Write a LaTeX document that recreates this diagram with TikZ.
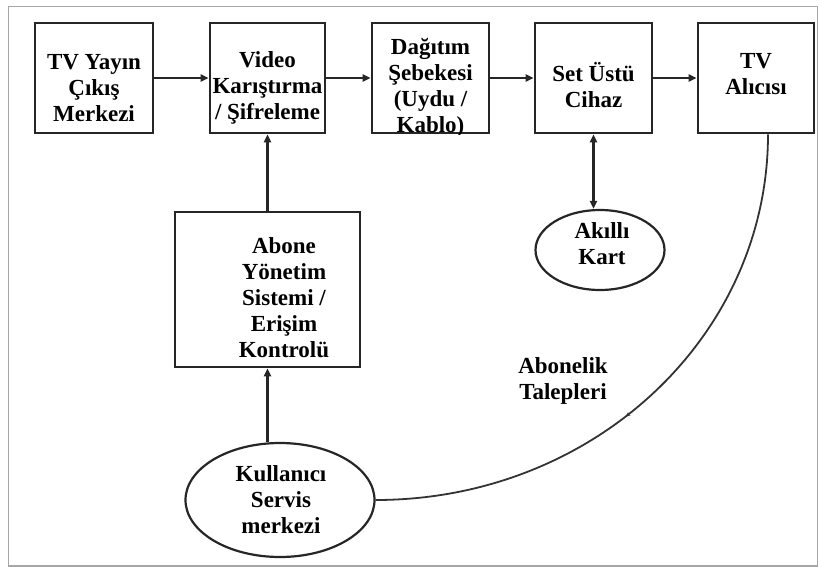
\documentclass[tikz,border=0pt]{standalone}
\usepackage{fontspec}
\setmainfont{Liberation Serif}
\usetikzlibrary{arrows.meta,shapes.geometric,decorations.markings}
\begin{document}
\begin{tikzpicture}[x=1pt,y=-1pt,
  blk/.style={draw=black!85,line width=2.6pt,minimum height=110pt,inner sep=0pt},
  oval/.style={draw=black!85,line width=2.2pt,ellipse,inner sep=0pt},
  txt/.style={font=\fontsize{23}{26}\selectfont\bfseries,align=center,inner sep=0pt},
  flow/.style={line width=2.2pt,draw=black!85,-{Triangle[length=8pt,width=7pt]}},
  both/.style={line width=2.2pt,draw=black!85,{Triangle[length=8pt,width=7pt]}-{Triangle[length=8pt,width=7pt]}},
  req/.style={line width=1.8pt,draw=black!80,
    postaction={decorate},
    decoration={markings,mark=at position 0.55 with {\arrow{Stealth[length=5pt,width=4pt]}}}}]
\useasboundingbox (0,0) rectangle (819,567);
% frame
\draw[gray!70,line width=1.8pt] (8.5,6.5) rectangle (817.5,566);

% top row of blocks
\node[blk,minimum width=118pt] (b1) at (94,78) {};
\node[blk,minimum width=115pt] (b2) at (267.5,78) {};
\node[blk,minimum width=117pt] (b3) at (430.5,78) {};
\node[blk,minimum width=117pt] (b4) at (593.5,78) {};
\node[blk,minimum width=116pt] (b5) at (756,78) {};

\node[txt] (t1) at (94,88) {TV Yayın\\Çıkış\\Merkezi};
\node[txt] (t2) at (267.5,88) {Video\\Karıştırma\\/ Şifreleme};
\begin{scope}
  \clip (b3.north west) rectangle (b3.south east);
  \node[txt] (t3) at (430.5,88) {Dağıtım\\Şebekesi\\(Uydu /\\Kablo)};
\end{scope}
\node[txt] (t4) at (593.5,85) {Set Üstü\\Cihaz};
\node[txt] (t5) at (756,74) {TV\\Alıcısı};

% subscriber management block
\node[blk,minimum width=185pt,minimum height=155pt] (ab) at (267.5,289.5) {};
\node[txt] (tab) at (284,298) {Abone\\Yönetim\\Sistemi /\\Erişim\\Kontrolü};

% smart card and user service centre
\node[oval,minimum width=129pt,minimum height=80pt] (ak) at (600,250) {};
\node[txt] (tak) at (602,244) {Akıllı\\Kart};
\node[oval,minimum width=189pt,minimum height=114pt] (kul) at (280,500) {};
\node[txt] (tkul) at (281,500) {Kullanıcı\\Servis\\merkezi};

\node[txt] (treq) at (563,381) {Abonelik\\Talepleri};

% connectors
\draw[flow] (b1.east) -- (b2.west);
\draw[flow] (b2.east) -- (b3.west);
\draw[flow] (b3.east) -- (b4.west);
\draw[flow] (b4.east) -- (b5.west);
\draw[flow] (ab.north) -- (b2.south);
\draw[flow] (kul.north -| ab.south) -- (ab.south);
\draw[both] (b4.south) -- (b4.south |- ak.north);
\coordinate (rq) at ([xshift=12pt]b5.south);
\draw[req] (rq) .. controls ([yshift=-202pt]rq) and ([xshift=218pt]kul.east) .. (kul.east);
\end{tikzpicture}
\end{document}
